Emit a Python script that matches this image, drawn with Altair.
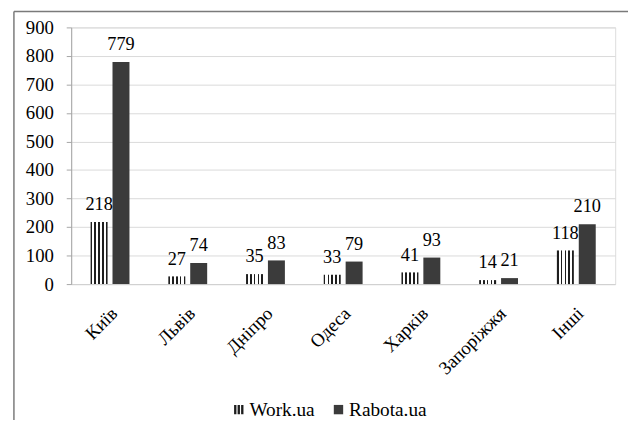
import altair as alt
import pandas as pd

cities = ["Київ", "Львів", "Дніпро", "Одеса", "Харків", "Запоріжжя", "Інші"]
series = ["Work.ua", "Rabota.ua"]
work = [218, 27, 35, 33, 41, 14, 118]
rabota = [779, 74, 83, 79, 93, 21, 210]
y_ticks = [0, 100, 200, 300, 400, 500, 600, 700, 800, 900]

rows = []
for c, w, r in zip(cities, work, rabota):
    rows.append({"city": c, "series": series[0], "value": w})
    rows.append({"city": c, "series": series[1], "value": r})
df = pd.DataFrame(rows)

FONT = "Liberation Serif"
DARK = "#3b3b3b"
STRIPE = "#1e1e1e"

n_dark = 5
d = 0.098
w = (1 - n_dark * d) / (n_dark - 1)
stops = []
pos = 0.0
for i in range(n_dark):
    stops.append({"offset": round(pos, 4), "color": STRIPE})
    pos += d
    stops.append({"offset": round(min(pos, 1), 4), "color": STRIPE})
    if i < n_dark - 1:
        stops.append({"offset": round(pos, 4), "color": "#ffffff"})
        pos += w
        stops.append({"offset": round(pos, 4), "color": "#ffffff"})
hatch = {"gradient": "linear", "x1": 0, "x2": 1, "y1": 0, "y2": 0, "stops": stops}

x_enc = alt.X("city:N", sort=cities, title=None,
              scale=alt.Scale(domain=cities, paddingInner=0.5, paddingOuter=0.25),
              axis=alt.Axis(labelAngle=-45, ticks=False, domainColor="#d0d0d0",
                            labelPadding=20, labelOffset=-2, grid=False, labelOverlap=False,
                            labelFontSize=19, labelFont=FONT))
xoff = alt.XOffset("series:N", sort=series,
                   scale=alt.Scale(domain=series, paddingInner=0.225, paddingOuter=0))
y_enc = alt.Y("value:Q", title=None,
              scale=alt.Scale(domain=[0, 900], nice=False),
              axis=alt.Axis(values=y_ticks, tickSize=5, tickColor="#a6a6a6",
                            domainColor="#a6a6a6", gridColor="#d9d9d9", labelPadding=13,
                            labelOverlap=False, labelFlush=False, labelFontSize=19,
                            labelFont=FONT))

base = alt.Chart(df)

bars = base.mark_bar().encode(
    x=x_enc, xOffset=xoff, y=y_enc,
    fill=alt.condition(alt.datum.series == "Work.ua", alt.value(hatch), alt.value(DARK)),
)

labels = base.mark_text(font=FONT, fontSize=18.5, baseline="alphabetic", dy=-12, color="#000000").encode(
    x=x_enc, xOffset=xoff, y=y_enc, text="value:Q",
)

bar_path = "M-1,-1H-0.5V1H-1Z M-0.25,-1H0.25V1H-0.25Z M0.5,-1H1V1H0.5Z"
leg = dict(title=None, orient="none", legendX=160, legendY=377,
           direction="horizontal", symbolSize=90, symbolOpacity=1,
           columnPadding=14, labelOffset=1, symbolStrokeWidth=0,
           labelFont=FONT, labelFontSize=19.5, labelColor="#000000")
legend_pts = base.mark_point(filled=True, opacity=0).encode(
    x=x_enc, xOffset=xoff, y=y_enc,
    color=alt.Color("series:N", sort=series,
                    scale=alt.Scale(domain=series, range=[STRIPE, DARK]),
                    legend=alt.Legend(**leg)),
    shape=alt.Shape("series:N", sort=series,
                    scale=alt.Scale(domain=series, range=[bar_path, "square"]),
                    legend=alt.Legend(**leg)),
)

one = pd.DataFrame({"k": [0]})
border_left = alt.Chart(one).mark_rule(color="#7a7a7a", strokeWidth=1.5).encode(
    x=alt.value(-58), y=alt.value(-16), y2=alt.value(420))
border_top = alt.Chart(one).mark_rule(color="#7a7a7a", strokeWidth=1.5).encode(
    x=alt.value(-58), x2=alt.value(600), y=alt.value(-16))

chart = alt.layer(bars, labels, legend_pts, border_left, border_top).properties(
    width=551, height=260,
    autosize=alt.AutoSizeParams(type="none"),
    padding={"left": 64, "top": 17, "right": 13, "bottom": 135},
).configure_view(stroke=None).configure(
    background="#ffffff", font=FONT
).configure_axis(
    labelFont=FONT, labelColor="#000000"
).configure_legend(
    labelFont=FONT, labelFontSize=19.5, labelColor="#000000"
)

chart.save("out.html", embed_options={"renderer": "svg", "actions": False})
